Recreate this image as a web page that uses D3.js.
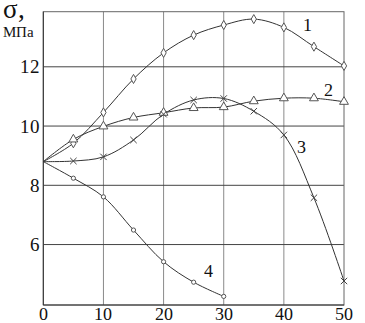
<!DOCTYPE html>
<html><head><meta charset="utf-8">
<script src="https://cdn.jsdelivr.net/npm/d3@7"></script>
<style>
@font-face{font-family:"ChartSerif";src:local("Liberation Serif"),local("LiberationSerif"),local("LiberationSerif-Regular"),local("Times New Roman");}
body{margin:0;background:#fff}
svg text{font-family:"ChartSerif","Liberation Serif",serif;}
</style>
</head><body>
<svg id="c" width="365" height="323"></svg>
<script>
const xTicks = [0,10,20,30,40,50];
const yTicks = [6,8,10,12];
const xs1 = [0,5,10,15,20,25,30,35,40,45,50];
const s1 = [8.8,9.42,10.46,11.59,12.47,13.07,13.41,13.61,13.33,12.68,12.03];
const xs2 = [0,5,10,15,20,25,30,35,40,45,50];
const s2 = [8.8,9.55,9.99,10.29,10.45,10.61,10.64,10.84,10.94,10.94,10.82];
const xs3 = [0,5,10,15,20,25,30,35,40,45,50];
const s3 = [8.8,8.82,8.96,9.53,10.4,10.88,10.93,10.5,9.7,7.58,4.77];
const xs4 = [0,5,10,15,20,25,30];
const s4 = [8.8,8.24,7.61,6.49,5.42,4.73,4.25];
const seriesLabels = ["1","2","3","4"];

const svg = d3.select("#c");
const x = d3.scaleLinear().domain([0,50]).range([43.3,344]);
const y = d3.scaleLinear().domain([3.96,13.86]).range([305,11.7]);

svg.append("g").selectAll("line").data([10,20,30,40]).join("line")
  .attr("x1",d=>x(d)).attr("x2",d=>x(d)).attr("y1",y(13.86)).attr("y2",y(3.96))
  .attr("stroke","#8a8a8a").attr("stroke-width",1);
svg.append("g").selectAll("line").data(yTicks).join("line")
  .attr("x1",x(0)).attr("x2",x(50)).attr("y1",d=>y(d)).attr("y2",d=>y(d))
  .attr("stroke","#444").attr("stroke-width",1);
svg.append("rect").attr("x",x(0)).attr("y",y(13.86)).attr("width",x(50)-x(0)).attr("height",y(3.96)-y(13.86))
  .attr("fill","none").attr("stroke","#666").attr("stroke-width",1);
svg.append("path").attr("d",`M${x(0)},${y(13.86)}V${y(3.96)}H${x(50)}`).attr("fill","none").attr("stroke","#333");

svg.append("g").selectAll("text").data(yTicks).join("text")
  .attr("x",40).attr("y",d=>y(d)+6.5).attr("text-anchor","end")
  .attr("font-size",19).attr("fill","#111").text(d=>d);
svg.append("g").selectAll("text").data(xTicks).join("text")
  .attr("x",d=>x(d)).attr("y",320).attr("text-anchor","middle")
  .attr("font-size",18).attr("fill","#111").text(d=>d);
svg.append("text").attr("x",3).attr("y",18).attr("font-size",27).attr("fill","#111").text("σ,");
svg.append("text").attr("x",3).attr("y",37).attr("font-size",15).attr("fill","#111").text("МПа");

const line = d3.line().x(d=>x(d[0])).y(d=>y(d[1])).curve(d3.curveCatmullRom.alpha(0.5));
const series = [
  {xs:xs1, ys:s1, sym:d3.symbolDiamond, size:24},
  {xs:xs2, ys:s2, sym:d3.symbolTriangle, size:34},
  {xs:xs3, ys:s3, cross:true},
  {xs:xs4, ys:s4, sym:d3.symbolCircle, size:14}
];
series.forEach(s=>{
  const pts = s.xs.map((v,i)=>[v,s.ys[i]]);
  svg.append("path").datum(pts).attr("d",line).attr("fill","none").attr("stroke","#333").attr("stroke-width",1);
});
series.forEach(s=>{
  const pts = s.xs.map((v,i)=>[v,s.ys[i]]).slice(1);
  const g = svg.append("g");
  if (s.cross) {
    g.selectAll("path").data(pts).join("path")
      .attr("d",d=>{const cx=x(d[0]),cy=y(d[1]),r=3.2;return `M${cx-r},${cy-r}L${cx+r},${cy+r}M${cx-r},${cy+r}L${cx+r},${cy-r}`;})
      .attr("stroke","#444").attr("stroke-width",1).attr("fill","none");
  } else {
    g.selectAll("path").data(pts).join("path")
      .attr("d",d3.symbol().type(s.sym).size(s.size))
      .attr("transform",d=>`translate(${x(d[0])},${y(d[1])})`)
      .attr("fill","#fff").attr("stroke","#555").attr("stroke-width",1);
  }
});
const labelPos = [[44,13.2],[47.5,11.0],[43,9.1],[27.5,4.9]];
svg.append("g").selectAll("text").data(seriesLabels).join("text")
  .attr("x",(d,i)=>x(labelPos[i][0])).attr("y",(d,i)=>y(labelPos[i][1]))
  .attr("text-anchor","middle").attr("font-size",18).attr("fill","#111").text(d=>d);
</script>
</body></html>
